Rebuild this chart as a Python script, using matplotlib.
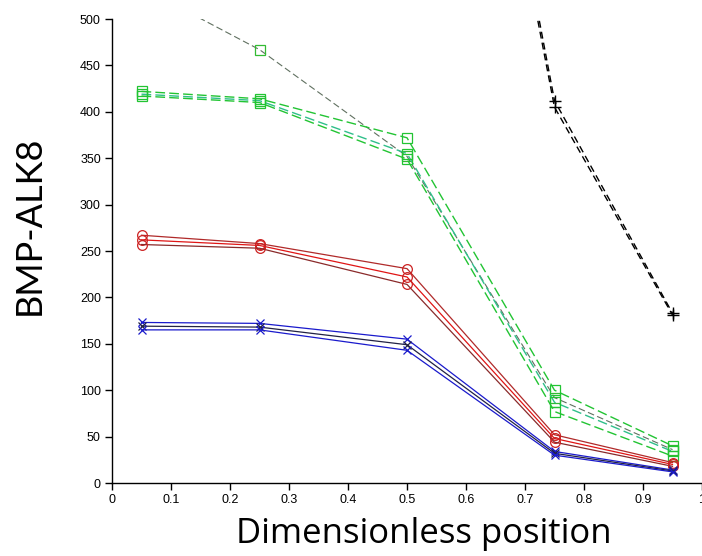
import numpy as np
import matplotlib
matplotlib.use("Agg")
import matplotlib.pyplot as plt

x = [0.05, 0.25, 0.5, 0.75, 0.95]

# green squares (dashed)
green_a = [422, 414, 372, 100, 40]
green_b = [419, 412, 355, 87, 34]
green_c = [417, 410, 349, 77, 29]
# gray dashed series going above the axis at low positions
gray_a = [534, 467, 352, 92, 36]

# red circles (solid)
red_a = [267, 258, 231, 52, 22]
red_b = [262, 256, 222, 48, 20]
red_c = [257, 253, 214, 44, 18]

# blue / black crosses (solid)
blue_a = [173, 172, 155, 34, 14]
blue_b = [169, 168, 149, 32, 13]
blue_c = [165, 165, 143, 30, 12]

# black dashed plus markers
black_x = [0.5, 0.75, 0.95]
black_a = [1250, 412, 183]
black_b = [1230, 405, 181]

fig = plt.figure(figsize=(7.02, 5.56), dpi=100)
ax = fig.add_axes([112/702, (556-483)/556, (702-112)/702, (483-19)/556])

lw = 0.9
# gray line
ax.plot(x, gray_a, ls=(0, (6, 3)), color='#607060', lw=0.8, marker='s', ms=7,
        mfc='none', mec='#33bb33', mew=0.9)
for g, c in [(green_a, '#22c433'), (green_b, '#2fbf8a'), (green_c, '#22c433')]:
    ax.plot(x, g, ls=(0, (7, 3)), color=c, lw=1.0, marker='s', ms=7,
            mfc='none', mec='#22c433', mew=0.9)

for r, c in [(red_a, '#b02a2a'), (red_b, '#e01515'), (red_c, '#8a2a2a')]:
    ax.plot(x, r, ls='-', color=c, lw=lw, marker='o', ms=7,
            mfc='none', mec='#cc2222', mew=0.9)

for b, c in [(blue_a, '#1a1acc'), (blue_b, '#222244'), (blue_c, '#1a1acc')]:
    ax.plot(x, b, ls='-', color=c, lw=lw, marker='x', ms=6,
            mec=c, mew=0.9)

for k in [black_a, black_b]:
    ax.plot(black_x, k, ls=(0, (5, 3)), color='black', lw=1.0, marker='+', ms=9,
            mec='black', mew=1.0)

ax.set_xlim(0, 1)
ax.set_ylim(0, 500)
ax.set_xticks(np.arange(0, 1.01, 0.1))
ax.set_xticklabels(['0', '0.1', '0.2', '0.3', '0.4', '0.5', '0.6', '0.7', '0.8', '0.9', '1'])
ax.set_yticks(np.arange(0, 501, 50))
for s in ['top', 'right']:
    ax.spines[s].set_visible(False)
for s in ['left', 'bottom']:
    ax.spines[s].set_linewidth(1.0)
ax.tick_params(direction='out', length=5, width=1, labelsize=9, pad=3)
for t in ax.get_xticklabels() + ax.get_yticklabels():
    t.set_fontfamily('Liberation Sans')

ax.set_xlabel('Dimensionless position', fontsize=25, fontfamily='Open Sans')
ax.xaxis.label.set_verticalalignment('baseline')
ax.xaxis.set_label_coords(0.529, -(543 - 483) / 464)
ax.set_ylabel('BMP-ALK8', fontsize=26, fontfamily='Lato')
ax.yaxis.set_label_coords(-(112 - 13) / 590, (483 - 225) / 464)
ax.yaxis.label.set_verticalalignment('top')

fig.savefig('out.png', dpi=100)
